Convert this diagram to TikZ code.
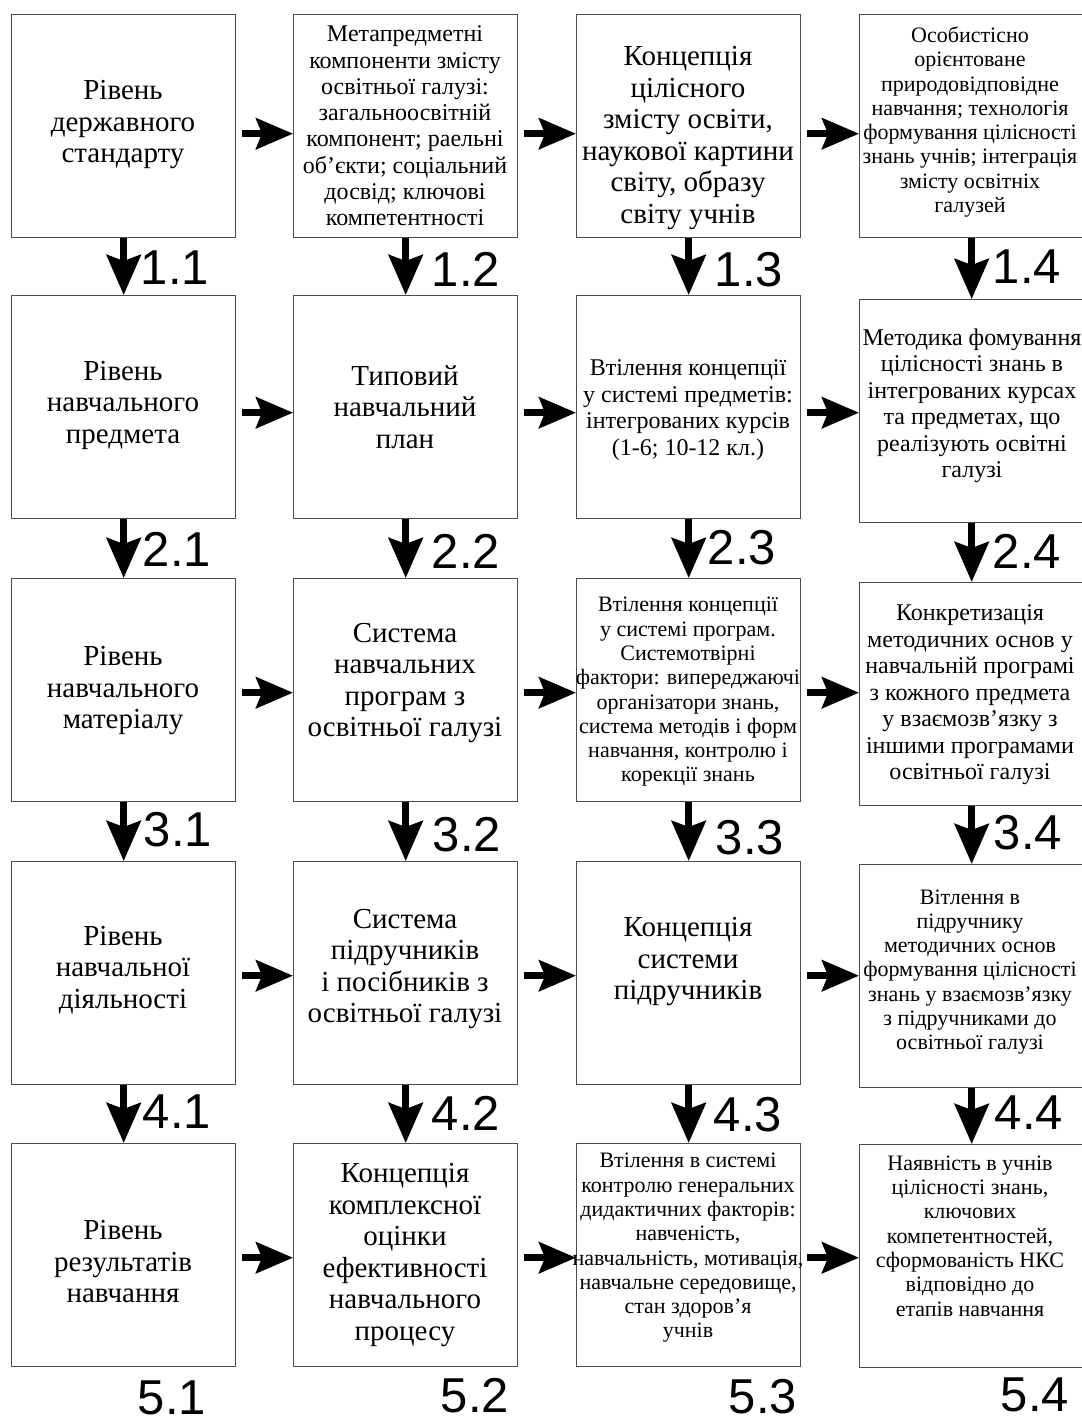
\documentclass[tikz,border=0pt]{standalone}
\usepackage{fontspec}
\setmainfont{Liberation Serif}
\newfontfamily\labfont{Liberation Sans}
\usetikzlibrary{arrows.meta,calc}
\begin{document}
\begin{tikzpicture}[x=1pt,y=-1pt,
  box/.style={draw=black!70, line width=1.4pt, minimum width=224pt, minimum height=223pt, inner sep=0pt, anchor=north west},
  bigtxt/.style={align=center, inner sep=0pt, font=\fontsize{29}{31.5}\selectfont},
  midtxt/.style={align=center, inner sep=0pt, font=\fontsize{24}{26.5}\selectfont},
  smalltxt/.style={align=center, inner sep=0pt, font=\fontsize{22}{24.3}\selectfont},
  num/.style={inner sep=0pt, font=\labfont\fontsize{49}{49}\selectfont},
  varrow/.style={line width=7pt, -{Stealth[length=40pt,width=34pt,inset=6pt]}},
  harrow/.style={line width=6.5pt, -{Stealth[length=37pt,width=31pt,inset=6pt]}}
]
\useasboundingbox (0,0) rectangle (1081,1423);
\fill[white] (0,0) rectangle (1081,1423);

% boxes
\node[box] (b11) at (11,14) {};
\node[box] (b12) at (293,14) {};
\node[box] (b13) at (576,14) {};
\node[box] (b14) at (859,14) {};
\node[box] (b21) at (11,295) {};
\node[box] (b22) at (293,295) {};
\node[box] (b23) at (576,295) {};
\node[box] (b24) at (859,299) {};
\node[box] (b31) at (11,578) {};
\node[box] (b32) at (293,578) {};
\node[box] (b33) at (576,578) {};
\node[box] (b34) at (859,582) {};
\node[box] (b41) at (11,861) {};
\node[box] (b42) at (293,861) {};
\node[box] (b43) at (576,861) {};
\node[box] (b44) at (859,864) {};
\node[box] (b51) at (11,1143) {};
\node[box] (b52) at (293,1143) {};
\node[box] (b53) at (576,1143) {};
\node[box] (b54) at (859,1144) {};

% texts
\node[bigtxt] (t11) at (123,125) {Рівень\\державного\\стандарту};
\node[align=center, inner sep=0pt, font=\fontsize{24}{26.3}\selectfont] (t12) at (405,126) {Метапредметні\\компоненти змісту\\освітньої галузі:\\загальноосвітній\\компонент; раельні\\об’єкти; соціальний\\досвід; ключові\\компетентності};
\node[bigtxt] (t13) at (688,138) {Концепція\\цілісного\\змісту освіти,\\наукової картини\\світу, образу\\світу учнів};
\node[smalltxt] (t14) at (970,122) {Особистісно\\орієнтоване\\природовідповідне\\навчання; технологія\\формування цілісності\\знань учнів; інтеграція\\змісту освітніх\\галузей};

\node[bigtxt] (t21) at (123,405) {Рівень\\навчального\\предмета};
\node[bigtxt] (t22) at (405,407) {Типовий\\навчальний\\план};
\node[midtxt] (t23) at (688,410) {Втілення концепції\\у системі предметів:\\інтегрованих курсів\\(1-6; 10-12 кл.)};
\node[midtxt] (t24) at (972,406) {Методика фомування\\цілісності знань в\\інтегрованих курсах\\та предметах, що\\реалізують освітні\\галузі};

\node[bigtxt] (t31) at (123,691) {Рівень\\навчального\\матеріалу};
\node[bigtxt] (t32) at (405,683) {Система\\навчальних\\програм з\\освітньої галузі};
\node[smalltxt] (t33) at (688,692) {Втілення концепції\\у системі програм.\\Системотвірні\\фактори: випереджаючі\\організатори знань,\\система методів і форм\\навчання, контролю і\\корекції знань};
\node[midtxt] (t34) at (970,695) {Конкретизація\\методичних основ у\\навчальній програмі\\з кожного предмета\\у взаємозв’язку з\\іншими програмами\\освітньої галузі};

\node[bigtxt] (t41) at (123,970) {Рівень\\навчальної\\діяльності};
\node[bigtxt] (t42) at (405,969) {Система\\підручників\\і посібників з\\освітньої галузі};
\node[bigtxt] (t43) at (688,962) {Концепція\\системи\\підручників};
\node[smalltxt] (t44) at (970,972) {Вітлення в\\підручнику\\методичних основ\\формування цілісності\\знань у взаємозв’язку\\з підручниками до\\освітньої галузі};

\node[bigtxt] (t51) at (123,1262) {Рівень\\результатів\\навчання};
\node[bigtxt] (t52) at (405,1255) {Концепція\\комплексної\\оцінки\\ефективності\\навчального\\процесу};
\node[smalltxt] (t53) at (688,1248) {Втілення в системі\\контролю генеральних\\дидактичних факторів:\\навченість,\\навчальність, мотивація,\\навчальне середовище,\\стан здоров’я\\учнів};
\node[smalltxt] (t54) at (970,1236) {Наявність в учнів\\цілісності знань,\\ключових\\компетентностей,\\сформованість НКС\\відповідно до\\етапів навчання};

% vertical arrows
\foreach \r/\s in {1/2,2/3,3/4,4/5}{
  \foreach \c in {1,2,3,4}{
    \draw[varrow] (b\r\c.south) -- (b\s\c.north);
  }
}

% horizontal arrow rows
\coordinate (h1) at ([yshift=-7.5pt]b11.east);
\coordinate (h2) at ([yshift=-5.5pt]b21.east);
\coordinate (h3) at ([yshift=-2.5pt]b31.east);
\coordinate (h4) at ([yshift=-2.5pt]b41.east);
\coordinate (h5) at ([yshift=-2.5pt]b51.east);
\foreach \r in {1,2,3,4,5}{
  \draw[harrow] ($(h\r -| b\r1.east)+(6,0)$) -- (h\r -| b\r2.west);
  \draw[harrow] ($(h\r -| b\r2.east)+(6,0)$) -- (h\r -| b\r3.west);
  \draw[harrow] ($(h\r -| b\r3.east)+(6,0)$) -- (h\r -| b\r4.west);
}

% number labels
\node[num] (n11) at (175,268) {1.1};
\node[num] (n12) at (466,269) {1.2};
\node[num] (n13) at (749,270) {1.3};
\node[num] (n14) at (1027,267) {1.4};
\node[num] (n21) at (177,549) {2.1};
\node[num] (n22) at (466,551) {2.2};
\node[num] (n23) at (742,548) {2.3};
\node[num] (n24) at (1027,551) {2.4};
\node[num] (n31) at (178,830) {3.1};
\node[num] (n32) at (467,835) {3.2};
\node[num] (n33) at (750,838) {3.3};
\node[num] (n34) at (1028,833) {3.4};
\node[num] (n41) at (177,1112) {4.1};
\node[num] (n42) at (466,1113) {4.2};
\node[num] (n43) at (748,1115) {4.3};
\node[num] (n44) at (1029,1113) {4.4};
\node[num] (n51) at (172,1398) {5.1};
\node[num] (n52) at (475,1396) {5.2};
\node[num] (n53) at (763,1397) {5.3};
\node[num] (n54) at (1035,1395) {5.4};
\end{tikzpicture}
\end{document}
